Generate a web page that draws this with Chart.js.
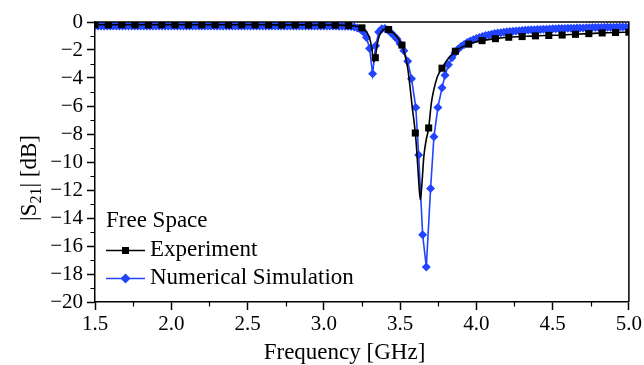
<!DOCTYPE html>
<html>
<head>
<meta charset="utf-8">
<script src="https://cdn.jsdelivr.net/npm/chart.js@4.4.1/dist/chart.umd.min.js"></script>
<style>
  html, body { margin: 0; padding: 0; background: #fff; }
  #wrap { width: 644px; height: 365px; }
</style>
</head>
<body>
<div id="wrap"><canvas id="c" width="644" height="365"></canvas></div>
<script>
// ---------- data ----------
const xTickValues = [1.5, 2.0, 2.5, 3.0, 3.5, 4.0, 4.5, 5.0];
const xTickLabels = ['1.5', '2.0', '2.5', '3.0', '3.5', '4.0', '4.5', '5.0'];
const yTickValues = [-20, -18, -16, -14, -12, -10, -8, -6, -4, -2, 0];
const yTickLabels = ['\u221220', '\u221218', '\u221216', '\u221214', '\u221212', '\u221210', '\u22128', '\u22126', '\u22124', '\u22122', '0'];

const legendTitle = 'Free Space';
const seriesNames = ['Experiment', 'Numerical Simulation'];

// Experiment: measured points shown with square markers
const expMarkFreq = [1.5, 1.5875, 1.675, 1.7625, 1.85, 1.9375, 2.025, 2.1125, 2.2, 2.2875,
  2.375, 2.4625, 2.55, 2.6375, 2.725, 2.8125, 2.9, 2.9875, 3.075, 3.1625,
  3.25, 3.3375, 3.425, 3.5125, 3.6, 3.6875, 3.775, 3.8625, 3.95, 4.0375,
  4.125, 4.2125, 4.3, 4.3875, 4.475, 4.5625, 4.65, 4.7375, 4.825, 4.9125, 5.0];
const expMarkS21 = [-0.2, -0.2, -0.19, -0.2, -0.2, -0.19, -0.2, -0.2, -0.2, -0.19,
  -0.2, -0.2, -0.2, -0.2, -0.21, -0.2, -0.21, -0.21, -0.22, -0.25,
  -0.42, -2.55, -0.54, -1.65, -7.93, -7.57, -3.3, -2.09, -1.58, -1.33,
  -1.19, -1.09, -1.04, -0.99, -0.96, -0.93, -0.88, -0.83, -0.78, -0.75, -0.73];

// Experiment: full measured trace (the line)
const expLineFreq = [1.5, 1.5875, 1.675, 1.7625, 1.85, 1.9375, 2.025, 2.1125, 2.2, 2.2875,
  2.375, 2.4625, 2.55, 2.6375, 2.725, 2.8125, 2.9, 2.9875, 3.075, 3.1625,
  3.25, 3.28, 3.30, 3.315, 3.327, 3.3375, 3.35, 3.365, 3.385, 3.405,
  3.425, 3.45, 3.48, 3.5125, 3.535, 3.55, 3.565, 3.58, 3.6, 3.61,
  3.62, 3.633, 3.645, 3.655, 3.67, 3.6875, 3.705, 3.72, 3.745, 3.775,
  3.81, 3.8625, 3.95, 4.0375, 4.125, 4.2125, 4.3, 4.3875, 4.475, 4.5625,
  4.65, 4.7375, 4.825, 4.9125, 5.0];
const expLineS21 = [-0.2, -0.2, -0.19, -0.2, -0.2, -0.19, -0.2, -0.2, -0.2, -0.19,
  -0.2, -0.2, -0.2, -0.2, -0.21, -0.2, -0.21, -0.21, -0.22, -0.25,
  -0.42, -0.7, -1.15, -1.9, -2.85, -2.55, -1.6, -0.95, -0.6, -0.5,
  -0.54, -0.72, -1.05, -1.65, -2.5, -3.3, -4.6, -6.1, -7.93, -9.3,
  -11.0, -12.7, -11.3, -9.7, -8.5, -7.57, -5.8, -4.9, -3.9, -3.3,
  -2.7, -2.09, -1.58, -1.33, -1.19, -1.09, -1.04, -0.99, -0.96, -0.93,
  -0.88, -0.83, -0.78, -0.75, -0.73];

// Numerical simulation (every point carries a diamond)
const simFreq = [1.50, 1.52, 1.54, 1.56, 1.58, 1.60, 1.62, 1.64, 1.66, 1.68,
  1.70, 1.72, 1.74, 1.76, 1.78, 1.80, 1.82, 1.84, 1.86, 1.88,
  1.90, 1.92, 1.94, 1.96, 1.98, 2.00, 2.02, 2.04, 2.06, 2.08,
  2.10, 2.12, 2.14, 2.16, 2.18, 2.20, 2.22, 2.24, 2.26, 2.28,
  2.30, 2.32, 2.34, 2.36, 2.38, 2.40, 2.42, 2.44, 2.46, 2.48,
  2.50, 2.52, 2.54, 2.56, 2.58, 2.60, 2.62, 2.64, 2.66, 2.68,
  2.70, 2.72, 2.74, 2.76, 2.78, 2.80, 2.82, 2.84, 2.86, 2.88,
  2.90, 2.92, 2.94, 2.96, 2.98, 3.00, 3.02, 3.04, 3.06, 3.08,
  3.10, 3.12, 3.14, 3.16, 3.18, 3.20, 3.22, 3.24, 3.26, 3.28,
  3.30, 3.32, 3.34, 3.36, 3.38, 3.40, 3.42, 3.44, 3.46, 3.48,
  3.50, 3.525, 3.55, 3.575, 3.603, 3.622, 3.648, 3.672, 3.70, 3.722,
  3.748, 3.775, 3.795, 3.817, 3.84, 3.86, 3.88, 3.90, 3.92, 3.94,
  3.96, 3.98, 4.00, 4.02, 4.04, 4.06, 4.08, 4.10, 4.12, 4.14,
  4.16, 4.18, 4.20, 4.22, 4.24, 4.26, 4.28, 4.30, 4.32, 4.34,
  4.36, 4.38, 4.40, 4.42, 4.44, 4.46, 4.48, 4.50, 4.52, 4.54,
  4.56, 4.58, 4.60, 4.62, 4.64, 4.66, 4.68, 4.70, 4.72, 4.74,
  4.76, 4.78, 4.80, 4.82, 4.84, 4.86, 4.88, 4.90, 4.92, 4.94,
  4.96, 4.98, 5.00];
const simS21 = [-0.28, -0.28, -0.28, -0.28, -0.28, -0.28, -0.28, -0.28, -0.28, -0.28,
  -0.28, -0.28, -0.28, -0.28, -0.28, -0.28, -0.28, -0.28, -0.28, -0.28,
  -0.28, -0.28, -0.28, -0.28, -0.28, -0.28, -0.28, -0.28, -0.28, -0.28,
  -0.28, -0.28, -0.28, -0.28, -0.28, -0.28, -0.28, -0.28, -0.28, -0.28,
  -0.28, -0.28, -0.28, -0.28, -0.28, -0.28, -0.28, -0.28, -0.28, -0.28,
  -0.28, -0.28, -0.28, -0.28, -0.28, -0.28, -0.28, -0.28, -0.28, -0.28,
  -0.28, -0.28, -0.28, -0.28, -0.28, -0.28, -0.28, -0.28, -0.28, -0.28,
  -0.28, -0.28, -0.28, -0.28, -0.28, -0.29, -0.29, -0.29, -0.29, -0.29,
  -0.3, -0.3, -0.3, -0.31, -0.32, -0.36, -0.42, -0.52, -0.72, -1.1,
  -1.9, -3.7, -1.7, -0.72, -0.48, -0.46, -0.58, -0.76, -0.98, -1.22,
  -1.55, -2.05, -2.8, -4.05, -6.1, -9.5, -15.2, -17.5, -11.9, -8.2,
  -6.1, -4.7, -3.8, -3.05, -2.55, -2.2, -1.95, -1.75, -1.6, -1.47,
  -1.36, -1.26, -1.18, -1.1, -1.03, -0.97, -0.92, -0.87, -0.83, -0.79,
  -0.76, -0.73, -0.7, -0.68, -0.66, -0.64, -0.62, -0.6, -0.59, -0.57,
  -0.56, -0.55, -0.54, -0.53, -0.52, -0.51, -0.5, -0.49, -0.48, -0.47,
  -0.46, -0.46, -0.45, -0.44, -0.44, -0.43, -0.42, -0.42, -0.41, -0.41,
  -0.4, -0.4, -0.39, -0.39, -0.38, -0.38, -0.37, -0.37, -0.37, -0.36,
  -0.36, -0.36, -0.35];

// ---------- chart ----------
const FONT = "'Liberation Serif', 'Times New Roman', serif";
const FS = 21;      // tick labels
const FT = 23;      // titles and legend
const BLUE = '#2244ff';

const pts = (xs, ys) => xs.map((x, i) => ({ x: x, y: ys[i] }));
const lookup = (vals, labels, v) => {
  for (let i = 0; i < vals.length; i++) if (Math.abs(vals[i] - v) < 1e-6) return labels[i];
  return '';
};

const decor = {
  id: 'decor',
  afterDraw(chart) {
    const { ctx, chartArea: a, scales } = chart;
    const xs = scales.x, ys = scales.y;
    ctx.save();
    ctx.strokeStyle = '#000';
    ctx.lineWidth = 1.5;
    ctx.beginPath();
    ctx.moveTo(a.left, a.top);
    ctx.lineTo(a.right, a.top);
    ctx.lineTo(a.right, a.bottom);
    ctx.stroke();
    // minor ticks
    ctx.lineWidth = 1.2;
    ctx.beginPath();
    for (let v = ys.min + 1; v < ys.max; v += 2) {
      const py = Math.round(ys.getPixelForValue(v)) + 0.5;
      ctx.moveTo(a.left - 4.5, py); ctx.lineTo(a.left, py);
    }
    for (let v = xs.min + 0.25; v < xs.max; v += 0.5) {
      const px = Math.round(xs.getPixelForValue(v)) + 0.5;
      ctx.moveTo(px, a.bottom); ctx.lineTo(px, a.bottom + 4.5);
    }
    ctx.stroke();

    ctx.fillStyle = '#000';
    ctx.font = FT + 'px ' + FONT;
    // x title
    ctx.textAlign = 'center';
    ctx.textBaseline = 'alphabetic';
    ctx.fillText('Frequency [GHz]', 344.5, 359);
    // y title with subscript
    ctx.save();
    ctx.translate(36, 178);
    ctx.rotate(-Math.PI / 2);
    ctx.textAlign = 'left';
    const p1 = '|S', sub = '21', p2 = '| [dB]';
    const subSize = Math.round(FT * 0.68);
    ctx.font = FT + 'px ' + FONT;
    const w1 = ctx.measureText(p1).width, w3 = ctx.measureText(p2).width;
    ctx.font = subSize + 'px ' + FONT;
    const w2 = ctx.measureText(sub).width;
    const total = w1 + w2 + w3;
    let cx = -total / 2;
    ctx.font = FT + 'px ' + FONT;
    ctx.fillText(p1, cx, 0); cx += w1;
    ctx.font = subSize + 'px ' + FONT;
    ctx.fillText(sub, cx, 5); cx += w2;
    ctx.font = FT + 'px ' + FONT;
    ctx.fillText(p2, cx, 0);
    ctx.restore();

    // legend
    ctx.font = FT + 'px ' + FONT;
    ctx.textAlign = 'left';
    ctx.textBaseline = 'middle';
    ctx.fillText(legendTitle, 106, 221);
    // experiment entry
    ctx.strokeStyle = '#000'; ctx.lineWidth = 1.5;
    ctx.beginPath(); ctx.moveTo(106, 250.5); ctx.lineTo(145, 250.5); ctx.stroke();
    ctx.fillRect(125.5 - 3.5, 250.5 - 3.5, 7, 7);
    ctx.fillText(seriesNames[0], 150, 250);
    // simulation entry
    ctx.strokeStyle = BLUE;
    ctx.beginPath(); ctx.moveTo(106, 278.5); ctx.lineTo(145, 278.5); ctx.stroke();
    ctx.fillStyle = BLUE;
    ctx.beginPath();
    ctx.moveTo(125.5, 278.5 - 5); ctx.lineTo(130.5, 278.5); ctx.lineTo(125.5, 278.5 + 5); ctx.lineTo(120.5, 278.5);
    ctx.closePath(); ctx.fill();
    ctx.fillStyle = '#000';
    ctx.fillText(seriesNames[1], 150, 278);
    ctx.restore();
  }
};

new Chart(document.getElementById('c'), {
  type: 'line',
  data: {
    datasets: [
      {
        label: seriesNames[0] + ' markers',
        data: pts(expMarkFreq, expMarkS21),
        showLine: false,
        pointStyle: 'rect',
        pointRadius: 5,
        pointBackgroundColor: '#000',
        pointBorderColor: '#000',
        pointBorderWidth: 0,
        order: 0
      },
      {
        label: seriesNames[0],
        data: pts(expLineFreq, expLineS21),
        borderColor: '#000',
        borderWidth: 1.6,
        pointRadius: 0,
        cubicInterpolationMode: 'monotone',
        order: 1
      },
      {
        label: seriesNames[1],
        data: pts(simFreq, simS21),
        borderColor: BLUE,
        borderWidth: 1.6,
        pointStyle: 'rectRot',
        pointRadius: 4.5,
        pointBackgroundColor: BLUE,
        pointBorderColor: BLUE,
        pointBorderWidth: 0,
        tension: 0,
        order: 2
      }
    ]
  },
  options: {
    responsive: false,
    devicePixelRatio: 1,
    animation: false,
    events: [],
    layout: { padding: { top: 22, right: 14.5, left: 0, bottom: 0 } },
    plugins: { legend: { display: false }, tooltip: { enabled: false } },
    scales: {
      x: {
        type: 'linear',
        min: 1.5, max: 5.0,
        afterFit: (s) => { s.height = 63; },
        border: { display: true, color: '#000', width: 1.5 },
        grid: { drawOnChartArea: false, drawTicks: true, tickLength: 8, tickWidth: 1.5, tickColor: '#000' },
        ticks: {
          stepSize: 0.5,
          autoSkip: false,
          maxRotation: 0,
          padding: 2,
          color: '#000',
          font: { family: FONT, size: FS },
          callback: (v) => lookup(xTickValues, xTickLabels, v)
        }
      },
      y: {
        type: 'linear',
        min: -20, max: 0,
        afterFit: (s) => { s.width = 95; },
        border: { display: true, color: '#000', width: 1.5 },
        grid: { drawOnChartArea: false, drawTicks: true, tickLength: 8, tickWidth: 1.5, tickColor: '#000' },
        ticks: {
          stepSize: 2,
          autoSkip: false,
          padding: 4,
          color: '#000',
          font: { family: FONT, size: FS },
          callback: (v) => lookup(yTickValues, yTickLabels, v)
        }
      }
    }
  },
  plugins: [decor]
});
</script>
</body>
</html>
